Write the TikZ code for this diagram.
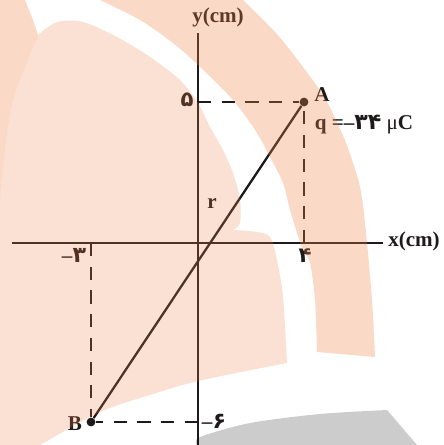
\documentclass[tikz,border=0pt]{standalone}
\usepackage{fontspec}
\setmainfont{Liberation Serif}
\newfontfamily\fadigits[Script=Arabic,Scale=1.05]{DejaVu Sans}
\usetikzlibrary{arrows.meta,calc}
\definecolor{Ink}{RGB}{30,26,26}
\definecolor{Mark}{RGB}{240,130,70}
\tikzset{
  axis/.style={draw=Ink,line width=1.3pt},
  guide/.style={draw=Ink,line width=1.3pt,dash pattern=on 7.5pt off 6pt},
  rod/.style={draw=Ink,line width=1.3pt},
  charge/.style={circle,fill=Ink,inner sep=0pt,minimum size=5pt},
  lbl/.style={font=\bfseries\fontsize{12}{14}\selectfont,text=Ink,inner sep=1pt},
  digit/.style={font=\fadigits\bfseries\fontsize{11.5}{13}\selectfont,text=Ink,inner sep=1pt},
  wband/.style={fill=Mark,fill opacity=0.3},
  wdisk/.style={fill=Mark,fill opacity=0.24},
  wgray/.style={fill=black,fill opacity=0.2}
}
\begin{document}
\begin{tikzpicture}[x=0.02cm,y=-0.02cm]
\useasboundingbox (0,0) rectangle (443,445);
\coordinate (O) at (198,243);
\coordinate (xl) at (12,243);
\coordinate (xr) at (383,243);
\coordinate (yt) at (198,33);
\coordinate (yb) at (198,445);
\coordinate (A5) at (198,102);
\coordinate (A4) at (304,243);
\coordinate (B3) at (91,243);
\coordinate (B6) at (198,422);
\node[charge] (A) at (304,102) {};
\node[charge] (B) at (91,422) {};

\draw[axis](xl)--(xr);\draw[axis](yt)--(yb);
\draw[guide](A5)--(A);\draw[guide](A4)--(A);\draw[guide](B3)--(B);\draw[guide](B6)--(B);
\draw[rod](A)--(B);

\node[lbl] (ylab) at (218,17) {y(cm)};
\node[lbl] (xlab) at (414,241) {x(cm)};
\node[lbl] (Alab) at (322,95) {A};
\node[lbl] (qlab) at (364,125) {q =–{\fadigits ۳۴} {\mdseries μ}C};
\node[lbl] (rlab) at (212,204) {r};
\node[lbl] (Blab) at (75,424) {B};
\node[digit] (d5) at (187,100) {۵};
\node[digit] (d4) at (305,256) {۴};
\node[lbl] (d3) at (74,255) {–{\fadigits ۳}};
\node[lbl] (d6) at (214,421) {–{\fadigits ۶}};

\fill[wband] plot[smooth] coordinates {(243,0) (276,33) (303,67) (326,100) (346,143) (360,187) (366,233) (372,300) (375,357)} -- (317,352) -- plot[smooth] coordinates {(317,352) (315,300) (310,263) (303,250) (297,233) (290,210) (283,183) (270,157) (257,133) (233,100) (198,65) (173,43) (140,20) (100,0)} -- cycle;
\fill[wband] (0,0) -- plot[smooth] coordinates {(25,0) (33,20) (38,35)} -- plot[smooth] coordinates {(38,35) (13,100) (3,167) (0,200)} -- cycle;
\fill[wdisk] plot[smooth] coordinates {(38,35) (57,22) (83,22) (117,37) (150,57) (180,80) (198,103) (210,127) (223,150) (233,173) (240,200) (240,223) (233,230)} -- plot[smooth] coordinates {(233,230) (257,232) (270,237) (277,260) (283,297) (287,363)} -- plot[smooth] coordinates {(287,363) (198,381) (150,395) (100,412) (40,445)} -- (0,445) -- (0,200) -- plot[smooth] coordinates {(0,200) (3,167) (13,100) (38,35)} -- cycle;
\fill[wgray] (197,445) -- plot[smooth] coordinates {(197,445) (200,437) (250,423) (320,414) (387,410)} -- (417,445) -- cycle;
\end{tikzpicture}
\end{document}
